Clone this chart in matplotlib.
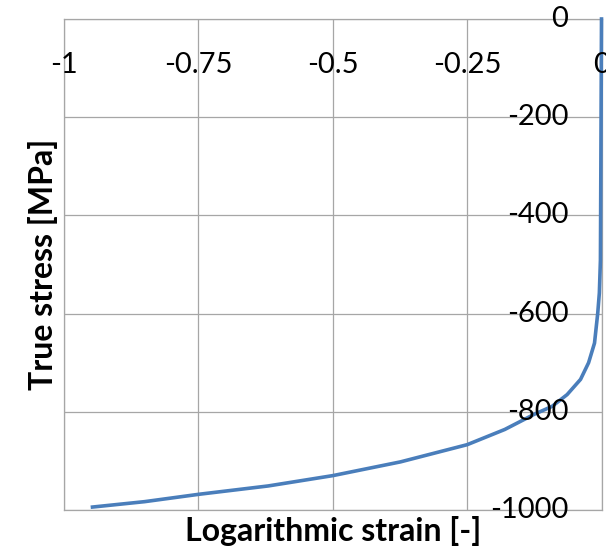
import matplotlib.pyplot as plt

plt.rcParams['font.family'] = ['Lato', 'DejaVu Sans']

# strain / stress
strain = [0, -0.0012, -0.002, -0.004, -0.007, -0.013, -0.024, -0.039, -0.064,
          -0.092, -0.125, -0.18, -0.25, -0.374, -0.5, -0.62, -0.749, -0.85, -0.947]
stress = [0, -300, -491, -558, -599, -660, -700, -734, -765,
          -789, -805, -836, -867, -902, -930, -951, -968, -983, -994]

xticks = [-1, -0.75, -0.5, -0.25, 0]
xtick_labels = ['-1', '-0.75', '-0.5', '-0.25', '0']
yticks = [0, -200, -400, -600, -800, -1000]
ytick_labels = ['0', '-200', '-400', '-600', '-800', '-1000']

fig = plt.figure(figsize=(6.06, 5.57), dpi=100)
ax = fig.add_axes([64 / 606, 1 - 510 / 557, 537.5 / 606, 491 / 557])

ax.plot(strain, stress, color='#4a7ebb', lw=2.6, zorder=3, clip_on=False,
        solid_joinstyle='round')

ax.set_xlim(-1, 0)
ax.set_ylim(-1000, 0)
ax.set_xticks(xticks)
ax.set_yticks(yticks)
ax.grid(True, color='#a6a6a6', lw=0.9)
ax.tick_params(length=0, labelbottom=False, labelleft=False)
for s in ax.spines.values():
    s.set_color('#a6a6a6')
    s.set_linewidth(0.9)

# tick labels sit on the axis lines that cross at (0, 0)
for x, lab in zip(xticks, xtick_labels):
    ax.annotate(lab, xy=(x, 0), xytext=(0, -46), textcoords='offset pixels',
                ha='center', va='center', fontsize=21, annotation_clip=False)
for y, lab in zip(yticks, ytick_labels):
    ax.annotate(lab, xy=(0, y), xytext=(-33, 0), textcoords='offset pixels',
                ha='right', va='center', fontsize=21, annotation_clip=False)

ax.set_xlabel('Logarithmic strain [-]', fontsize=23, fontweight='bold', labelpad=4)
ax.set_ylabel('True stress [MPa]', fontsize=23, fontweight='bold', labelpad=4)

fig.savefig('out.png', dpi=100)
